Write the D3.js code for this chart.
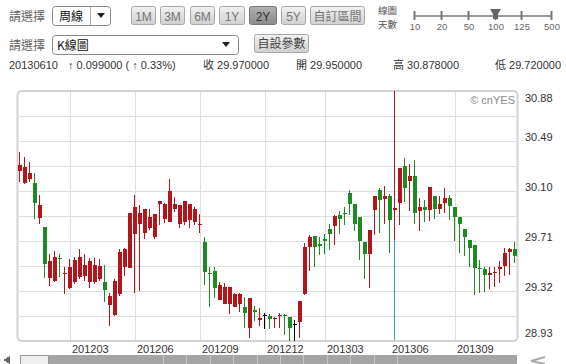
<!DOCTYPE html>
<html><head><meta charset="utf-8">
<script src="https://cdn.jsdelivr.net/npm/d3@7"></script>
<style>
html,body{margin:0;padding:0;background:#fff;}
svg{display:block;}
text{font-family:"Liberation Sans",Arial,"Noto Sans CJK TC",sans-serif;}
.cjk{font-family:"Noto Sans CJK TC","Liberation Sans",sans-serif;}
.narrow{font-family:"Liberation Sans Narrow","Liberation Sans",Arial,sans-serif;}
</style></head><body>
<svg id="c" width="566" height="364"></svg>
<script>
// ---------- data (weekly candles) ----------
const dates = [
"20111219","20111226","20120102","20120109","20120116","20120130","20120206","20120213","20120220","20120227",
"20120305","20120312","20120319","20120326","20120402","20120409","20120416","20120423","20120430","20120507",
"20120514","20120521","20120528","20120604","20120611","20120618","20120625","20120702","20120709","20120716",
"20120723","20120730","20120806","20120813","20120820","20120827","20120903","20120910","20120917","20120924",
"20121001","20121008","20121015","20121022","20121029","20121105","20121112","20121119","20121126","20121203",
"20121210","20121217","20121224","20121231","20130107","20130114","20130121","20130128","20130204","20130218",
"20130225","20130304","20130311","20130318","20130325","20130401","20130408","20130415","20130422","20130429",
"20130506","20130513","20130520","20130527","20130603","20130610","20130617","20130624","20130701","20130708",
"20130715","20130722","20130729","20130805","20130812","20130819","20130826","20130902","20130909","20130916",
"20130923","20130930","20131007","20131014","20131021","20131028","20131104","20131111","20131118","20131125"];
const open = [
30.256,30.162,30.191,30.162,29.891,29.817,29.421,29.400,29.578,29.452,
29.347,29.387,29.426,29.439,29.387,29.394,29.413,29.394,29.212,29.134,
29.296,29.504,29.499,29.766,29.844,29.770,29.813,29.745,30.001,29.880,
29.857,29.961,29.844,29.857,29.870,29.857,29.831,29.705,29.460,29.478,
29.249,29.217,29.217,29.199,29.217,29.196,29.030,29.170,29.092,29.134,
29.126,29.105,29.126,29.134,29.120,29.061,29.081,29.296,29.666,29.752,
29.690,29.723,29.807,29.828,29.911,29.930,30.081,29.995,29.899,29.703,
29.611,29.951,30.107,30.037,30.063,29.950,30.003,30.298,30.178,30.220,
29.943,29.979,29.948,30.060,29.961,30.005,30.048,29.979,29.896,29.805,
29.719,29.680,29.496,29.492,29.447,29.457,29.492,29.517,29.627,29.648];
const high = [
30.405,30.366,30.326,30.243,30.071,29.817,29.609,29.635,29.609,29.510,
29.570,29.582,29.648,29.609,29.578,29.578,29.570,29.525,29.308,29.413,
29.648,29.656,29.927,30.071,29.993,29.961,29.961,29.922,30.019,30.005,
30.196,30.052,29.987,30.021,30.001,29.979,29.917,29.745,29.504,29.504,
29.394,29.379,29.355,29.308,29.304,29.277,29.269,29.204,29.191,29.152,
29.144,29.120,29.152,29.139,29.120,29.095,29.243,29.692,29.760,29.752,
29.742,29.768,29.846,29.911,29.943,29.977,30.107,29.995,29.899,29.703,
29.794,30.060,30.120,30.142,30.073,30.878,30.277,30.355,30.308,30.342,
30.048,30.032,30.131,30.060,30.058,30.126,30.066,29.979,29.896,29.805,
29.719,29.680,29.562,29.504,29.504,29.510,29.551,29.656,29.656,29.700];
const low = [
30.170,30.157,30.170,29.883,29.844,29.421,29.361,29.387,29.426,29.296,
29.335,29.374,29.413,29.400,29.347,29.374,29.400,29.238,29.047,29.126,
29.282,29.439,29.499,29.308,29.322,29.727,29.792,29.727,29.836,29.849,
29.857,29.940,29.813,29.831,29.813,29.831,29.774,29.369,29.199,29.269,
29.249,29.217,29.139,29.199,29.160,29.030,28.956,29.087,29.047,29.022,
29.022,29.034,29.030,28.977,28.930,28.930,28.951,29.290,29.478,29.504,
29.598,29.611,29.637,29.682,29.763,29.833,29.911,29.786,29.559,29.416,
29.343,29.755,29.776,29.846,29.619,29.720,29.833,30.016,29.943,29.846,
29.786,29.857,29.864,29.883,29.922,29.927,29.870,29.708,29.614,29.596,
29.504,29.290,29.308,29.316,29.335,29.353,29.379,29.439,29.447,29.535];
const close = [
30.300,30.287,30.243,30.005,29.987,29.531,29.557,29.582,29.570,29.460,
29.504,29.562,29.582,29.525,29.557,29.525,29.517,29.329,29.282,29.400,
29.622,29.648,29.927,29.974,29.927,29.961,29.896,29.922,30.019,29.995,
30.099,30.001,29.987,30.021,30.001,29.961,29.839,29.465,29.452,29.343,
29.369,29.355,29.355,29.296,29.296,29.152,29.269,29.160,29.112,29.134,
29.100,29.112,29.134,29.126,29.034,29.061,29.243,29.666,29.745,29.661,
29.669,29.713,29.763,29.907,29.878,29.922,29.995,29.841,29.708,29.611,
29.794,30.060,30.029,30.060,29.871,29.970,30.277,30.126,30.220,29.932,
29.979,29.954,30.131,29.956,30.001,30.048,29.982,29.901,29.839,29.745,
29.656,29.499,29.492,29.447,29.457,29.465,29.504,29.617,29.648,29.596];

const yTickValues = [30.88, 30.49, 30.10, 29.71, 29.32, 28.93];
const xTickDates  = ["20120305","20120604","20120903","20121203","20130304","20130902"];
const xTickLabels = ["201203","201206","201209","201212","201303","201309"];
const cursorDate = "20130610";
const cursorLabel = "201306";
const rangeButtons = ["1M","3M","6M","1Y","2Y","5Y","自訂區間"];
const activeButton = "2Y";
const dayOptions = ["10","20","50","100","125","500"];
const activeDays = "100";

// ---------- layout ----------
const svg = d3.select("#c");
const P = {left:17.5, right:517.5, top:91, bottom:341};
const RED = "#b3151c", GREEN = "#1d8a22", TEAL = "#3f9fb3";

const x = d3.scaleBand().domain(dates).range([P.left, P.right]).padding(0);
const y = d3.scaleLinear().domain([28.93, 30.88]).range([P.bottom, P.top]);
const cx = d => Math.round(x(d) + x.bandwidth()/2);

// gradients
const defs = svg.append("defs");
const g1 = defs.append("linearGradient").attr("id","btn").attr("x1",0).attr("y1",0).attr("x2",0).attr("y2",1);
g1.append("stop").attr("offset",0).attr("stop-color","#f2f2f2");
g1.append("stop").attr("offset",1).attr("stop-color","#cfcfcf");
const g2 = defs.append("linearGradient").attr("id","btnA").attr("x1",0).attr("y1",0).attr("x2",0).attr("y2",1);
g2.append("stop").attr("offset",0).attr("stop-color","#b0b0b0");
g2.append("stop").attr("offset",1).attr("stop-color","#8a8a8a");

// ---------- header row 1 ----------
const hdr = svg.append("g");
hdr.append("text").attr("class","cjk").attr("x",9).attr("y",21).attr("font-size",12).attr("fill","#666").text("請選擇");
hdr.append("rect").attr("x",52.5).attr("y",6.5).attr("width",58).attr("height",19).attr("rx",3).attr("fill","#fff").attr("stroke","#8a8a8a");
hdr.append("text").attr("class","cjk").attr("x",59).attr("y",21).attr("font-size",12).attr("fill","#111").text("周線");
hdr.append("line").attr("x1",90.5).attr("x2",90.5).attr("y1",7).attr("y2",25).attr("stroke","#aaa");
hdr.append("path").attr("d","M97,13 L105,13 L101,18 Z").attr("fill","#222");

const btnPos = [[131,24],[160,24],[190,24],[219,25],[249,27],[281,24],[310,54]];
rangeButtons.forEach((b,i)=>{
  const [bx,bw] = btnPos[i];
  const act = b===activeButton;
  hdr.append("rect").attr("x",bx+0.5).attr("y",6.5).attr("width",bw).attr("height",18).attr("rx",2)
     .attr("fill", act?"url(#btnA)":"url(#btn)").attr("stroke", act?"#777":"#a8a8a8");
  hdr.append("text").attr("class", i===6?"cjk":"narrow").attr("x",bx+bw/2+0.5).attr("y",20.5)
     .attr("text-anchor","middle").attr("font-size",12).attr("fill", act?"#333":"#777").text(b);
});
hdr.append("text").attr("class","cjk").attr("x",378).attr("y",14).attr("font-size",9.5).attr("fill","#555").text("線圖");
hdr.append("text").attr("class","cjk").attr("x",378).attr("y",28).attr("font-size",9.5).attr("fill","#555").text("天數");
const sx = [414,441,468,495,521,551];
hdr.append("line").attr("x1",sx[0]).attr("x2",sx[5]).attr("y1",16).attr("y2",16).attr("stroke","#999").attr("stroke-width",2);
dayOptions.forEach((d,i)=>{
  hdr.append("line").attr("x1",sx[i]+0.5).attr("x2",sx[i]+0.5).attr("y1",11).attr("y2",20).attr("stroke","#777").attr("stroke-width",2);
  hdr.append("text").attr("class","narrow").attr("x",sx[i]+1).attr("y",30).attr("text-anchor","middle")
     .attr("font-size",9.5).attr("fill","#666").text(d);
  if(d===activeDays){
    hdr.append("path").attr("d",`M${sx[i]-5},9 L${sx[i]+6},9 L${sx[i]+3},14 L${sx[i]+3},19 L${sx[i]-2},19 L${sx[i]-2},14 Z`).attr("fill","#666");
  }
});

// ---------- header row 2 ----------
hdr.append("text").attr("class","cjk").attr("x",9).attr("y",50).attr("font-size",12).attr("fill","#666").text("請選擇");
hdr.append("rect").attr("x",52.5).attr("y",35.5).attr("width",186).attr("height",19).attr("rx",3).attr("fill","#fff").attr("stroke","#8a8a8a");
hdr.append("text").attr("class","cjk").attr("x",57).attr("y",50).attr("font-size",12).attr("fill","#111").text("K線圖");
hdr.append("path").attr("d","M222,42 L230,42 L226,47 Z").attr("fill","#222");
hdr.append("rect").attr("x",254.5).attr("y",34.5).attr("width",54).attr("height",18).attr("rx",2).attr("fill","url(#btn)").attr("stroke","#a8a8a8");
hdr.append("text").attr("class","cjk").attr("x",281.5).attr("y",48).attr("text-anchor","middle").attr("font-size",12).attr("fill","#444").text("自設參數");

// ---------- header row 3 (selected candle info) ----------
const ci = dates.indexOf(cursorDate);
const chg = close[ci]-close[ci-1];
const pct = chg/close[ci-1]*100;
const arrow = chg>=0?"↑":"↓";
const info = [
  [9, cursorDate],
  [68, `${arrow} ${Math.abs(chg).toFixed(6)} ( ${arrow} ${Math.abs(pct).toFixed(2)}%)`],
  [203, `收 ${close[ci].toFixed(6)}`],
  [296, `開 ${open[ci].toFixed(6)}`],
  [393, `高 ${high[ci].toFixed(6)}`],
  [495, `低 ${low[ci].toFixed(6)}`]
];
info.forEach(([tx,t])=>{
  hdr.append("text").attr("x",tx).attr("y",69).attr("font-size",11).attr("fill","#333").text(t);
});

// ---------- plot frame & grid ----------
svg.append("rect").attr("x",P.left).attr("y",P.top).attr("width",P.right-P.left).attr("height",P.bottom-P.top)
  .attr("rx",4).attr("fill","#fff").attr("stroke","#d2d2d2").attr("stroke-width",2);
const grid = svg.append("g").attr("stroke","#dedede").attr("stroke-width",1).attr("shape-rendering","crispEdges");
d3.range(1,10).forEach(k=>{
  const gy = P.top + k*(P.bottom-P.top)/10;
  grid.append("line").attr("x1",P.left+1).attr("x2",P.right-1).attr("y1",gy).attr("y2",gy);
});
xTickDates.forEach(d=>{
  grid.append("line").attr("x1",cx(d)+0.5).attr("x2",cx(d)+0.5).attr("y1",P.top+1).attr("y2",P.bottom-1);
});

// y labels
yTickValues.forEach(v=>{
  const ty = Math.max(102, Math.min(337, y(v)));
  svg.append("text").attr("x",525).attr("y",ty).attr("font-size",11).attr("fill","#333").text(v.toFixed(2));
});
// x labels
xTickDates.forEach((d,i)=>{
  svg.append("text").attr("x",cx(d)+2).attr("y",353).attr("font-size",11).attr("fill","#333").text(xTickLabels[i]);
});
svg.append("text").attr("x",cx(cursorDate)-3).attr("y",353).attr("font-size",11).attr("fill","#333").text(cursorLabel);

// copyright
svg.append("text").attr("x",515).attr("y",104).attr("text-anchor","end").attr("font-size",11).attr("fill","#8a8a8a").text("© cnYES");

// cursor line
svg.append("line").attr("x1",cx(cursorDate)-0.5).attr("x2",cx(cursorDate)-0.5).attr("y1",P.top).attr("y2",P.bottom-1)
  .attr("stroke",TEAL).attr("stroke-width",1);

// ---------- candles ----------
const data = dates.map((d,i)=>({d,o:open[i],h:high[i],l:low[i],c:close[i]}));
const col = r => r.c>r.o?RED:(r.c<r.o?GREEN:"#000");
const cg = svg.append("g").attr("shape-rendering","crispEdges");
cg.selectAll("line.w").data(data).join("line").attr("class","w")
  .attr("x1",r=>cx(r.d)-0.5).attr("x2",r=>cx(r.d)-0.5)
  .attr("y1",r=>Math.round(y(r.h))).attr("y2",r=>Math.round(y(r.l)))
  .attr("stroke",col).attr("stroke-width",1);
cg.selectAll("rect.b").data(data).join("rect").attr("class","b")
  .attr("x",r=>cx(r.d)-2).attr("width",4)
  .attr("y",r=>Math.round(y(Math.max(r.o,r.c))))
  .attr("height",r=>Math.max(1,Math.round(y(Math.min(r.o,r.c)))-Math.round(y(Math.max(r.o,r.c)))))
  .attr("fill",col);

// ---------- bottom navigator ----------
const nav = svg.append("g").attr("shape-rendering","crispEdges");
nav.append("path").attr("d","M3,360 L10,356 L10,364 Z").attr("fill","#666");
nav.append("rect").attr("x",48).attr("y",355).attr("width",469).attr("height",10).attr("fill","#a4a4a4");
d3.range(163,400,23.4).forEach(t=>{
  nav.append("line").attr("x1",Math.round(t)+0.5).attr("x2",Math.round(t)+0.5).attr("y1",355).attr("y2",364).attr("stroke","#c4c4c4");
});
nav.append("rect").attr("x",20.5).attr("y",355.5).attr("width",28).attr("height",9).attr("fill","#eeeeee").attr("stroke","#999");
nav.append("path").attr("d","M545,357 L531,361 L545,364").attr("fill","none").attr("stroke","#aaa").attr("stroke-width",2).attr("shape-rendering","auto");
</script>
</body></html>
